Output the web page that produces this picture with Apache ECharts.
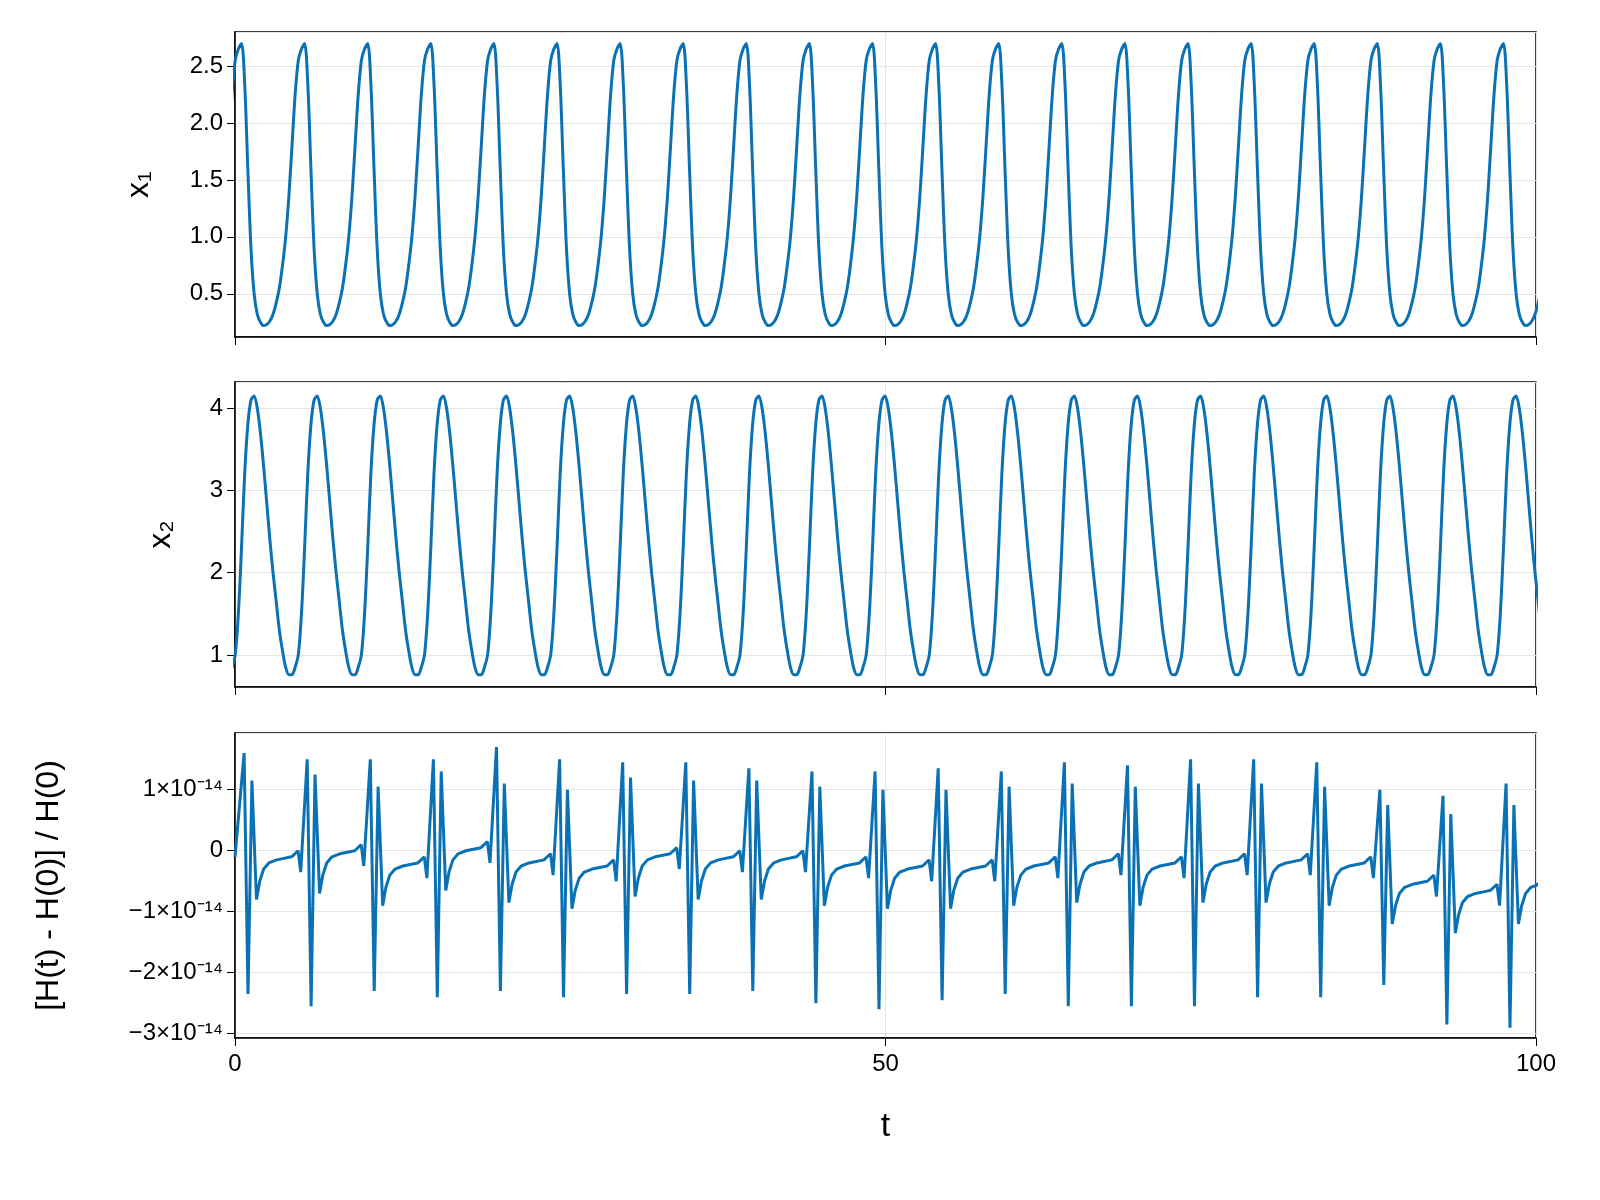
<!DOCTYPE html>
<html lang="en">
<head>
  <meta charset="UTF-8">
  <title>x1, x2 and energy error</title>
  <script src="https://cdn.jsdelivr.net/npm/echarts@6/dist/echarts.min.js"></script>
  <style>
    body { margin: 0; background: #fff; }
    #chart { width: 1600px; height: 1200px; }
  </style>
</head>
<body>
  <div id="chart"></div>
  <script>
    // times of the x1 peaks
    const peakTimes = [0.5, 5.35, 10.2, 15.05, 19.9, 24.75, 29.6, 34.45, 39.3, 44.15, 49.0,
                       53.85, 58.7, 63.55, 68.4, 73.25, 78.1, 82.95, 87.8, 92.65, 97.5];
    const period = 4.85;
    // one period of each curve, phase 0 = x1 peak, steps of 0.05
    const phases = [0, 0.05, 0.1, 0.15, 0.2, 0.25, 0.3, 0.35, 0.4, 0.45, 0.5,
                    0.55, 0.6, 0.65, 0.7, 0.75, 0.8, 0.85, 0.9, 0.95];
    const x1Shape = [2.70, 2.35, 1.6, 0.9, 0.5, 0.32, 0.25, 0.22, 0.23, 0.26, 0.32,
                     0.42, 0.55, 0.75, 1.0, 1.35, 1.8, 2.25, 2.55, 2.65];
    const x2Shape = [2.3, 3.2, 3.8, 4.1, 4.15, 4.0, 3.7, 3.3, 2.85, 2.4, 2.0,
                     1.65, 1.3, 1.05, 0.85, 0.76, 0.76, 0.85, 1.0, 1.5];
    // energy error per cycle, in units of 1e-14
    const errBase = [-0.15, -0.05, -0.25, 0.0, -0.2, -0.3, -0.1, -0.15, -0.15, -0.25, -0.3,
                     -0.3, -0.25, -0.2, -0.25, -0.2, -0.2, -0.25, -0.55, -0.7, -0.55];
    const errHigh = [1.6, 1.5, 1.5, 1.5, 1.7, 1.5, 1.45, 1.45, 1.35, 1.3, 1.3,
                     1.35, 1.3, 1.45, 1.4, 1.5, 1.5, 1.45, 1.0, 0.9, 1.1];
    const errLow = [-2.35, -2.55, -2.3, -2.4, -2.3, -2.4, -2.35, -2.35, -2.3, -2.5, -2.6,
                    -2.45, -2.35, -2.55, -2.55, -2.55, -2.4, -2.4, -2.2, -2.85, -2.9];

    const color = '#0a72b4';
    const font = 'Liberation Sans, Arial, sans-serif';

    function curve(shape) {
      const pts = [];
      for (let k = -1; k < peakTimes.length; k++) {
        const p = k < 0 ? peakTimes[0] - period : peakTimes[k];
        phases.forEach((ph, i) => pts.push([p + ph * period, shape[i]]));
      }
      pts.push([peakTimes[peakTimes.length - 1] + period, shape[0]]);
      return pts;
    }

    function errCurve() {
      const pts = [[0, -0.1]];
      peakTimes.forEach((p, k) => {
        const b = errBase[k];
        const prev = k > 0 ? errBase[k - 1] : -0.1;
        if (k > 0) {
          pts.push([p - 1.0, prev + 0.05]);
          pts.push([p - 0.5, prev + 0.15]);
          pts.push([p - 0.3, prev - 0.2]);
        }
        pts.push([p + 0.2, errHigh[k]]);
        pts.push([p + 0.5, errLow[k]]);
        pts.push([p + 0.8, b + 1.3]);
        pts.push([p + 1.15, b - 0.65]);
        pts.push([p + 1.4, b - 0.35]);
        pts.push([p + 1.7, b - 0.15]);
        pts.push([p + 2.1, b - 0.05]);
        pts.push([p + 2.7, b]);
      });
      pts.push([100, -0.55]);
      return pts;
    }

    const grids = [
      { left: 235, right: 64, top: 32, height: 305 },
      { left: 235, right: 64, top: 382, height: 305 },
      { left: 235, right: 64, top: 733, height: 305 }
    ];
    const xAxes = grids.map((g, i) => ({
      gridIndex: i, type: 'value', min: 0, max: 100, interval: 50,
      axisLine: { show: true, onZero: false, lineStyle: { color: '#000', width: 1.5 } },
      axisTick: { show: true, length: 8, lineStyle: { color: '#000' } },
      axisLabel: { show: i === 2, fontSize: 24, color: '#000', fontFamily: font, margin: 14 },
      splitLine: { show: true, lineStyle: { color: '#e5e5e5' } },
      name: i === 2 ? 't' : '', nameLocation: 'middle', nameGap: 72,
      nameTextStyle: { fontSize: 34, color: '#000', fontFamily: font }
    }));
    const yBase = {
      type: 'value',
      axisLine: { show: true, lineStyle: { color: '#000', width: 1.5 } },
      axisTick: { show: true, length: 8, lineStyle: { color: '#000' } },
      axisLabel: { fontSize: 24, color: '#000', fontFamily: font, margin: 12,
                   showMinLabel: false, showMaxLabel: false },
      splitLine: { show: true, lineStyle: { color: '#e5e5e5' } },
      nameLocation: 'middle',
      nameTextStyle: { fontSize: 32, color: '#000', fontFamily: font }
    };
    const sup = '⁻¹⁴';
    const yAxes = [
      Object.assign({}, yBase, { gridIndex: 0, min: 0.12, max: 2.8, splitNumber: 5, name: 'x₁', nameGap: 80,
        axisLabel: Object.assign({}, yBase.axisLabel, { formatter: v => v.toFixed(1) }) }),
      Object.assign({}, yBase, { gridIndex: 1, min: 0.61, max: 4.32, splitNumber: 4, name: 'x₂', nameGap: 58 }),
      Object.assign({}, yBase, { gridIndex: 2, min: -3.07, max: 1.93, splitNumber: 5,
        name: '[H(t) - H(0)] / H(0)', nameGap: 170,
        axisLabel: Object.assign({}, yBase.axisLabel, {
          formatter: v => v === 0 ? '0' : (v < 0 ? '−' + (-v) : v) + '×10' + sup })
      })
    ];
    const line = (i, data, smooth) => ({
      type: 'line', xAxisIndex: i, yAxisIndex: i, data: data, smooth: smooth,
      showSymbol: false, clip: true, lineStyle: { color: color, width: 3 }
    });

    const myChart = echarts.init(document.getElementById('chart'));
    myChart.setOption({
      animation: false,
      grid: grids.map(g => Object.assign({ show: true, borderColor: '#000', borderWidth: 1.5 }, g)),
      xAxis: xAxes,
      yAxis: yAxes,
      series: [line(0, curve(x1Shape), 0.3), line(1, curve(x2Shape), 0.3), line(2, errCurve(), false)]
    });
  </script>
</body>
</html>
